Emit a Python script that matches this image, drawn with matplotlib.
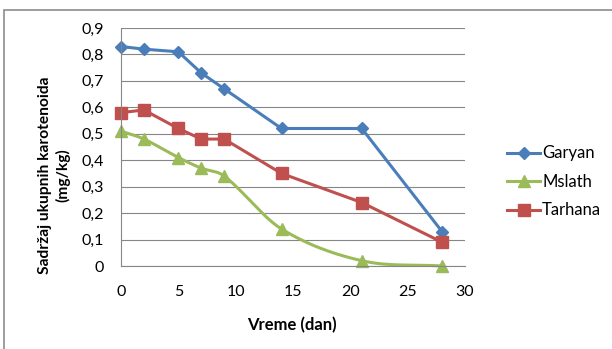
import numpy as np
import matplotlib
matplotlib.use("Agg")
import matplotlib.pyplot as plt
from matplotlib.patches import Rectangle
from matplotlib.lines import Line2D
from matplotlib.ticker import FuncFormatter

plt.rcParams['font.family'] = ['Lato', 'DejaVu Sans']

days = [0, 2, 5, 7, 9, 14, 21, 28]
garyan = [0.83, 0.82, 0.81, 0.73, 0.67, 0.52, 0.52, 0.13]
mslath = [0.51, 0.48, 0.41, 0.37, 0.34, 0.14, 0.02, 0.00]
tarhana = [0.58, 0.59, 0.52, 0.48, 0.48, 0.35, 0.24, 0.09]

x_ticks = [0, 5, 10, 15, 20, 25, 30]
y_ticks = [0, 0.1, 0.2, 0.3, 0.4, 0.5, 0.6, 0.7, 0.8, 0.9]


def smooth(xs, ys, n=40):
    """Cubic Hermite curve through the points, Catmull-Rom slopes."""
    xs = np.asarray(xs, float)
    ys = np.asarray(ys, float)
    m = np.empty_like(ys)
    m[0] = (ys[1] - ys[0]) / (xs[1] - xs[0])
    m[-1] = (ys[-1] - ys[-2]) / (xs[-1] - xs[-2])
    m[1:-1] = (ys[2:] - ys[:-2]) / (xs[2:] - xs[:-2])
    outx, outy = [], []
    for i in range(len(xs) - 1):
        h = xs[i + 1] - xs[i]
        t = np.linspace(0, 1, n, endpoint=False)
        h00 = 2 * t ** 3 - 3 * t ** 2 + 1
        h10 = t ** 3 - 2 * t ** 2 + t
        h01 = -2 * t ** 3 + 3 * t ** 2
        h11 = t ** 3 - t ** 2
        outx.extend(xs[i] + t * h)
        outy.extend(h00 * ys[i] + h10 * h * m[i] + h01 * ys[i + 1] + h11 * h * m[i + 1])
    outx.append(xs[-1])
    outy.append(ys[-1])
    return np.array(outx), np.array(outy)


blue = '#4A7EBB'
green = '#9BBB59'
red = '#C0504D'
grid_c = '#868686'

W, H = 612, 349
fig = plt.figure(figsize=(W / 100, H / 100), dpi=100)
fig.patches.append(Rectangle((4 / W, -0.1), 1.2, 1 - 10 / H + 0.1,
                             transform=fig.transFigure, fill=False,
                             edgecolor='#8C8C8C', linewidth=1.2))

ax = fig.add_axes([121 / W, 1 - 266 / H, 344 / W, 238 / H])
ax.set_xlim(0, 30)
ax.set_ylim(0, 0.9)
ax.set_xticks(x_ticks)
ax.set_yticks(y_ticks)
ax.yaxis.set_major_formatter(FuncFormatter(lambda v, p: '0' if v == 0 else f'{v:.1f}'.replace('.', ',')))
ax.xaxis.set_major_formatter(FuncFormatter(lambda v, p: f'{int(v)}'))
ax.grid(axis='y', color=grid_c, linewidth=0.8)
ax.set_axisbelow(True)
for s in ['top', 'right']:
    ax.spines[s].set_visible(False)
for s in ['left', 'bottom']:
    ax.spines[s].set_color(grid_c)
    ax.spines[s].set_linewidth(0.8)
ax.tick_params(length=0, labelsize=11.5, colors='#000000')
ax.tick_params(axis='y', pad=12)
ax.tick_params(axis='x', pad=14)

ax.plot(days, garyan, color=blue, lw=2.2, marker='D', ms=6, clip_on=False)
sx, sy = smooth(days, mslath)
ax.plot(sx, sy, color=green, lw=2.2, clip_on=False)
ax.plot(days, mslath, color=green, lw=0, marker='^', ms=8, clip_on=False)
ax.plot(days, tarhana, color=red, lw=2.2, marker='s', ms=8, clip_on=False)

handles = [
    Line2D([], [], color=blue, lw=2.2, marker='D', ms=6),
    Line2D([], [], color=green, lw=2.2, marker='^', ms=8),
    Line2D([], [], color=red, lw=2.2, marker='s', ms=8),
]
fig.legend(handles, ['Garyan', 'Mslath', 'Tarhana'], loc='center left',
           bbox_to_anchor=(492 / W, 1 - 182 / H), frameon=False,
           fontsize=12, handlelength=2.0, handletextpad=0.1, labelspacing=0.75)

fig.text(292 / W, 1 - 325 / H, 'Vreme (dan)', fontsize=12, fontweight='bold',
         ha='center', va='center')
fig.text(45 / W, 1 - 175 / H, 'Sadržaj ukupnih karotenoida', fontsize=11.2,
         fontweight='bold', rotation=90, ha='center', va='center')
fig.text(63 / W, 1 - 175 / H, '(mg/kg)', fontsize=11.2,
         fontweight='bold', rotation=90, ha='center', va='center')

fig.savefig('out.png', dpi=100)
